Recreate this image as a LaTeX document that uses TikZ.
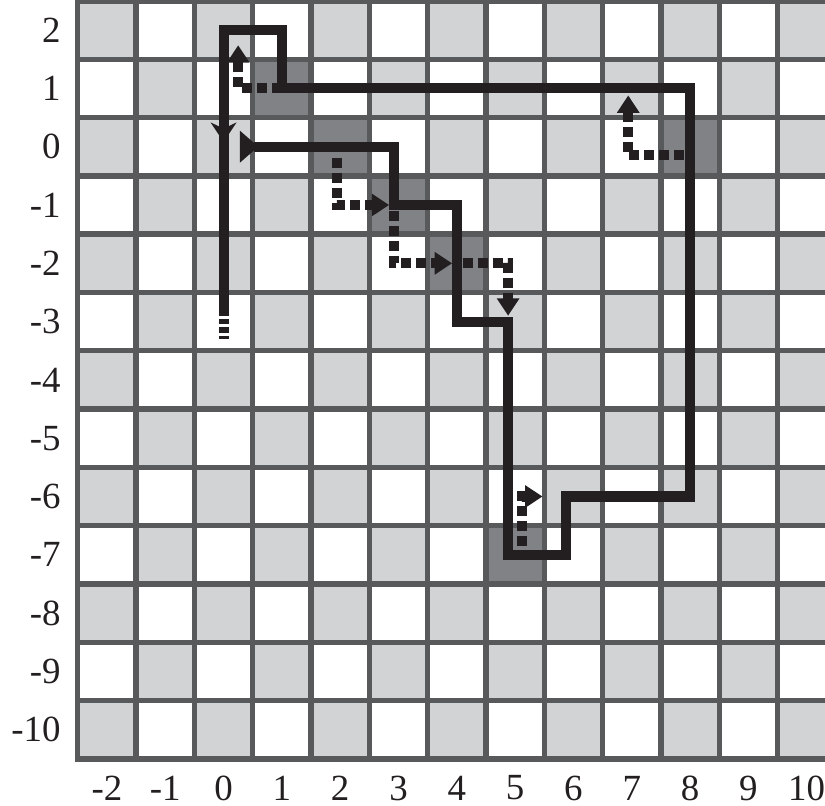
\documentclass[tikz,border=0pt]{standalone}
\usepackage{fontspec}
\setmainfont{Liberation Serif}
\definecolor{cellgray}{HTML}{D1D3D4}
\definecolor{visitgray}{HTML}{808285}
\definecolor{gridgray}{HTML}{58595B}
\definecolor{ink}{HTML}{231F20}
\usetikzlibrary{arrows.meta}

\begin{document}
\begin{tikzpicture}[
    cell/.style={fill=cellgray},
    visited/.style={fill=visitgray},
    gridline/.style={draw=gridgray, line width=2.6pt, line cap=rect},
    route/.style={draw=ink, line width=4.9pt},
    hop/.style={draw=ink, line width=4.9pt, dash pattern=on 4.9pt off 2.4pt,
                -{Triangle[width=10.5pt, length=8.5pt]}},
    lab/.style={font=\fontsize{18}{18}\selectfont, text=ink, inner sep=0pt}
  ]
  \useasboundingbox (-3.835,-11.30) rectangle (10.315,2.516);

  % board
  \foreach \c in {-2,...,10}
    \foreach \r in {-10,...,2}{
      \pgfmathtruncatemacro{\parity}{mod(\c+\r+24,2)}
      \ifnum\parity=0
        \fill[cell] (\c-0.5,\r-0.5) rectangle ++(1,1);
      \fi
    }
  \foreach \c/\r in {1/1, 2/0, 3/-1, 4/-2, 8/0, 5/-7}
    \fill[visited] (\c-0.5,\r-0.5) rectangle ++(1,1);
  \draw[gridline, shift={(-0.5,-0.5)}] (-2,-10) grid (11,3);

  % axis numbers
  \foreach \r in {-10,...,2}
    \node[lab, anchor=east] (ylab\r) at (-2.79,\r) {\r};
  \foreach \c in {-2,...,10}
    \node[lab] (xlab\c) at (\c,-11) {\c};

  % main route
  \draw[route, {Triangle[reversed, width=15pt, length=9pt]}-]
    (0.28,0) -- (2.92,0) -- (2.92,-1) -- (4,-1) -- (4,-3) -- (4.88,-3)
    -- (4.88,-7) -- (5.88,-7) -- (5.88,-6) -- (8,-6) -- (8,1) -- (1,1)
    -- (1,2) -- (0,2) -- (0,-2.9);
  \draw[route, -{Stealth[width=12.5pt, length=9.5pt, inset=3pt]}]
    (0,0.6) -- (0,0.08);
  \draw[draw=ink, line width=4.9pt, dash pattern=on 2.5pt off 1.5pt]
    (0,-2.96) -- (0,-3.29);

  % side steps
  \draw[hop] (1,1) -- (0.25,1) -- (0.25,1.74);
  \draw[hop] (1.95,-0.19) -- (1.95,-1) -- (2.84,-1);
  \draw[hop] (2.92,-1.1) -- (2.92,-2) -- (3.92,-2);
  \draw[hop] (4.1,-2) -- (4.88,-2) -- (4.88,-2.9);
  \draw[hop] (5.12,-6.85) -- (5.12,-6) -- (5.47,-6);
  \draw[hop] (7.9,-0.15) -- (6.94,-0.15) -- (6.94,0.88);
\end{tikzpicture}
\end{document}
